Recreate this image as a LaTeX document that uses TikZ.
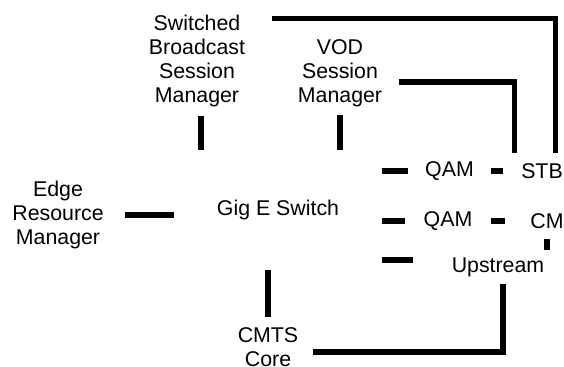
\documentclass[tikz,border=0pt]{standalone}
\usepackage{fontspec}
\setmainfont{Liberation Sans}
\usetikzlibrary{calc}

\tikzset{
  blk/.style={inner sep=0pt, align=center, font=\fontsize{16}{18}\selectfont},
  link/.style={line width=4pt},
}

\begin{document}
\begin{tikzpicture}[x=0.75pt, y=-0.75pt]
  \useasboundingbox (0,0) rectangle (564,367);
  % invisible boxes
  \node[blk, minimum width=112.5pt, minimum height=82.5pt] (sbsm) at (197,61) {Switched\\Broadcast\\Session\\Manager};
  \node[blk, minimum width=88.5pt, minimum height=62.25pt] (vod) at (340,73) {VOD\\Session\\Manager};
  \node[blk, minimum width=156pt, minimum height=89.25pt] (gig) at (278,210) {Gig E Switch};
  \node[blk, minimum width=100.5pt, minimum height=60pt] (edge) at (58,215) {Edge\\Resource\\Manager};
  \node[blk, minimum width=62.25pt, minimum height=22.5pt] (qam1) at (449.5,171) {QAM};
  \node[blk, minimum width=58.5pt, minimum height=27pt] (stb) at (542,171) {STB};
  \node[blk, minimum width=64.5pt, minimum height=22.5pt] (qam2) at (448,221) {QAM};
  \node[blk, minimum width=63pt, minimum height=27pt] (cm) at (547,221) {CM};
  \node[blk, minimum width=127.5pt, minimum height=24.75pt] (upstream) at (498,267) {Upstream};
  \node[blk, minimum width=67.5pt, minimum height=45pt] (cmts) at (268,347) {CMTS\\Core};

  % links
  \draw[link] ($(sbsm.north east)+(0,13)$) -| ($(stb.north west)+(53,0)$);
  \draw[link] ($(vod.east)+(0,9)$) -| ($(stb.north west)+(12,0)$);
  \draw[link] ($(sbsm.south)+(4,0)$) -- ($(sbsm.south |- gig.north)+(4,0)$);
  \draw[link] (vod.south) -- (vod.south |- gig.north);
  \draw[link] (edge.east) -- (edge.east -| gig.west);
  \draw[link] (qam1.west -| gig.east) -- (qam1.west);
  \draw[link] (qam2.west -| gig.east) -- (qam2.west);
  \draw[link] ($(upstream.west)+(0,-7)$) -- ($(upstream.west -| gig.east)+(0,-7)$);
  \draw[link] (qam1.east) -- (stb.west);
  \draw[link] (qam2.east) -- (cm.west);
  \draw[link] (cm.south) -- (cm.south |- upstream.north);
  \draw[link] (cmts.north) -- (cmts.north |- gig.south);
  \draw[link] ($(upstream.south)+(5,0)$) |- ($(cmts.east)+(0,5)$);
\end{tikzpicture}
\end{document}
